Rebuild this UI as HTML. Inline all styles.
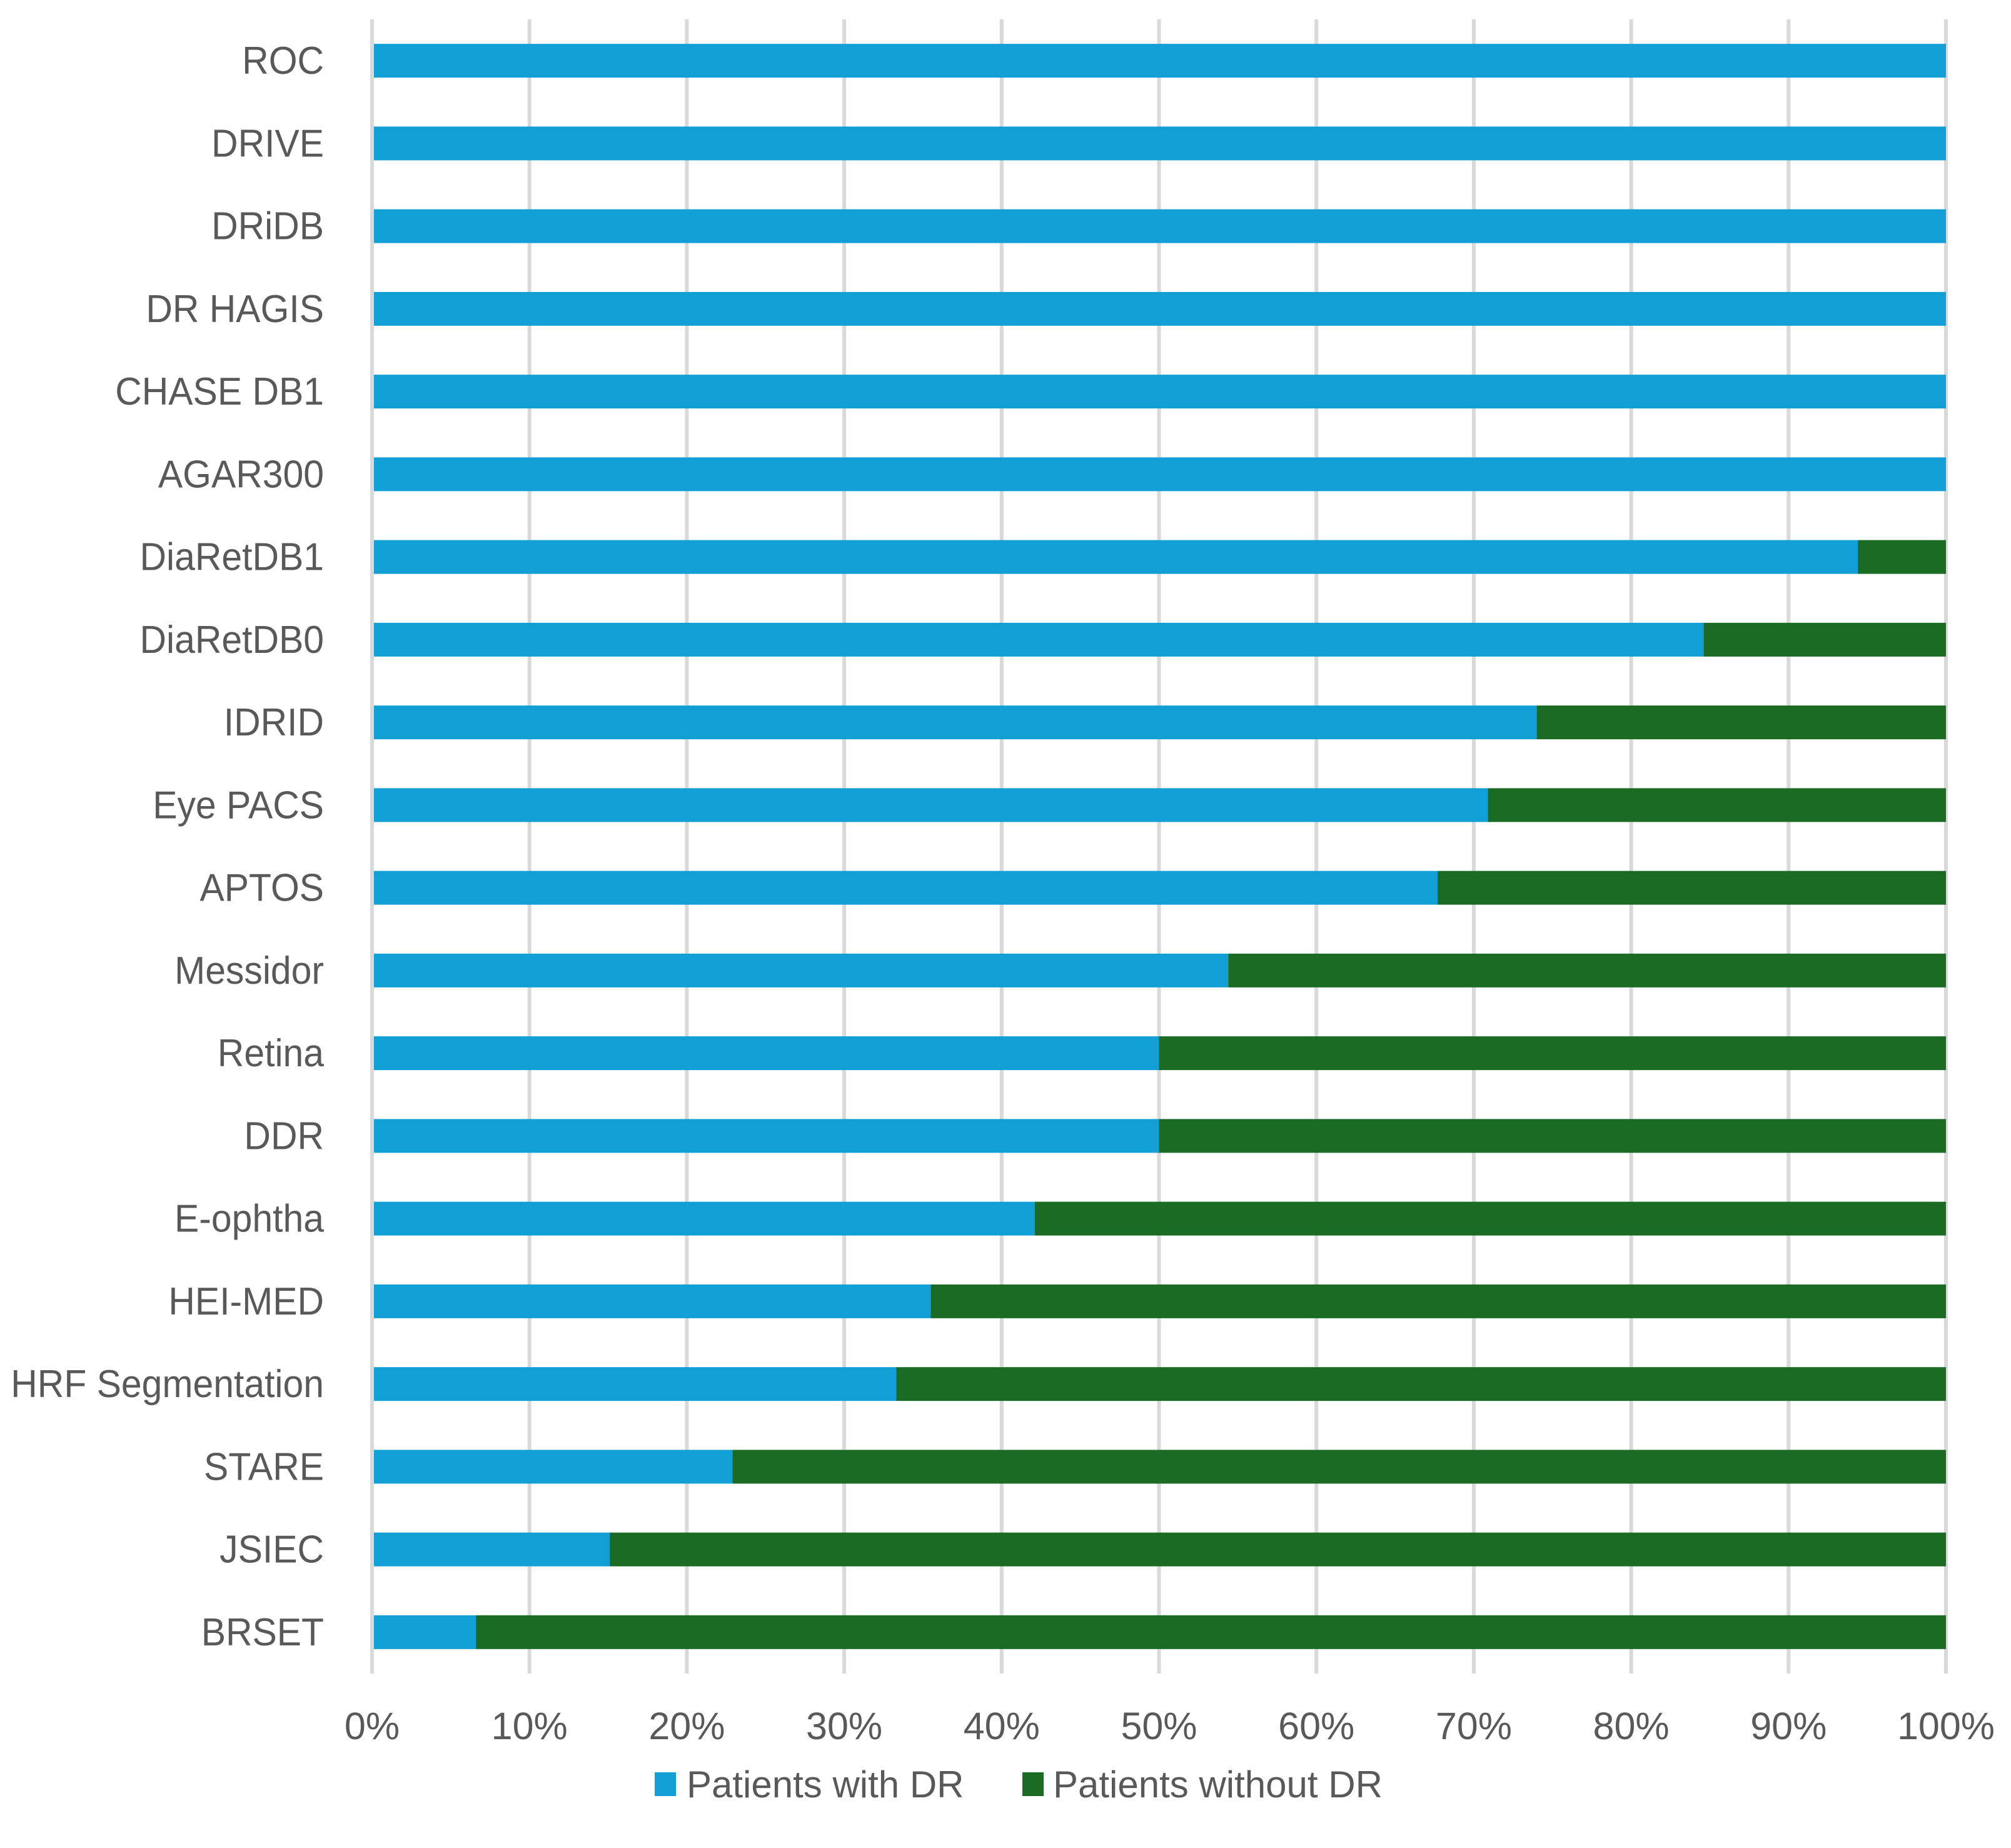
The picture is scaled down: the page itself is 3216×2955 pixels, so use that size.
<!DOCTYPE html>
<html><head><meta charset="utf-8"><style>
html,body{margin:0;padding:0;background:#fff;}
svg{display:block;}
text{font-family:"Liberation Sans",sans-serif;fill:#595959;}
</style></head><body>
<svg id="chart" width="3216" height="2955" viewBox="0 0 3216 2955" xmlns="http://www.w3.org/2000/svg">
<g id="grid"></g>
<g id="bars"></g>
<g id="ylabels"></g>
<g id="xlabels"></g>
<g id="legend">
  <rect x="1047" y="2834" width="34" height="38" fill="#119FD6"/>
  <text x="1098" y="2874" font-size="60">Patients with DR</text>
  <rect x="1635" y="2834" width="34" height="38" fill="#1B6B25"/>
  <text x="1684" y="2874" font-size="60">Patients without DR</text>
</g>
</svg>
<script>
const categories = ["ROC","DRIVE","DRiDB","DR HAGIS","CHASE DB1","AGAR300","DiaRetDB1","DiaRetDB0","IDRID","Eye PACS","APTOS","Messidor","Retina","DDR","E-ophtha","HEI-MED","HRF Segmentation","STARE","JSIEC","BRSET"];
const withDR = [100,100,100,100,100,100,94.4,84.6,74.0,70.9,67.7,54.4,50.0,50.0,42.1,35.5,33.3,22.9,15.1,6.6];
const withoutDR = [0,0,0,0,0,0,5.6,15.4,26.0,29.1,32.3,45.6,50.0,50.0,57.9,64.5,66.7,77.1,84.9,93.4];
const xTicks = [0,10,20,30,40,50,60,70,80,90,100];
const xTickLabels = ["0%","10%","20%","30%","40%","50%","60%","70%","80%","90%","100%"];

const NS = "http://www.w3.org/2000/svg";
const X0 = 595, X1 = 3112, Y0 = 31, Y1 = 2676;
const band = (Y1 - Y0) / categories.length;
const barH = 54;
function xScale(v){ return X0 + (X1 - X0) * v / 100; }
function yCenter(i){ return Y0 + band * (i + 0.5); }
function mk(tag, attrs, parent){ const e = document.createElementNS(NS, tag); for (const k in attrs) e.setAttribute(k, attrs[k]); parent.appendChild(e); return e; }

const grid = document.getElementById('grid');
xTicks.forEach((t) => {
  const l = mk('line', {x1:xScale(t), x2:xScale(t), y1:Y0, y2:Y1, stroke:'#D9D9D9', 'stroke-width':6}, grid);
  
  
});

const bars = document.getElementById('bars');
categories.forEach((c, i) => {
  const yc = yCenter(i);
  const a = mk('rect', {x:xScale(0)+3, y:yc-barH/2, width:xScale(withDR[i])-xScale(0)-3, height:barH, fill:'#119FD6'}, bars);
  
  
  const total = withDR[i] + withoutDR[i];
  if (withoutDR[i] > 0) {
    const b = mk('rect', {x:xScale(withDR[i]), y:yc-barH/2, width:xScale(total)-xScale(withDR[i]), height:barH, fill:'#1B6B25'}, bars);
    
    
  }
});

const yl = document.getElementById('ylabels');
const sx = 0.95;
categories.forEach((c, i) => {
  const t = mk('text', {x:(518/sx).toFixed(1), y:yCenter(i)+21, 'text-anchor':'end', 'font-size':62, transform:'scale('+sx+',1)'}, yl);
  t.textContent = c;
  
  
});

const xl = document.getElementById('xlabels');
xTicks.forEach((tv, i) => {
  const t = mk('text', {x:xScale(tv), y:2781, 'text-anchor':'middle', 'font-size':61}, xl);
  t.textContent = xTickLabels[i];
  
  
});
</script>
</body></html>
